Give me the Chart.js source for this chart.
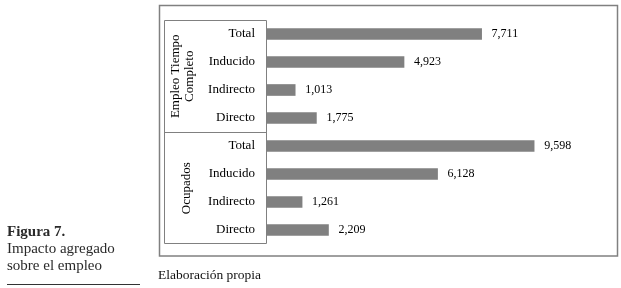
<!DOCTYPE html>
<html>
<head>
<meta charset="utf-8">
<script src="https://cdn.jsdelivr.net/npm/chart.js@4.4.1/dist/chart.umd.min.js"></script>
<style>
  html, body { margin: 0; padding: 0; background: #fff; }
  body { width: 621px; height: 288px; position: relative; overflow: hidden; font-family: "Liberation Serif", serif; }
  #wrap { position: absolute; left: 0; top: 0; width: 621px; height: 288px; }
  #caption { position: absolute; left: 7px; top: 223px; font-size: 15px; line-height: 17px; color: #2a2a2a; }
  #caption b { font-weight: bold; }
  #rule { position: absolute; left: 7px; top: 284px; width: 133px; height: 1px; background: #333; }
  #source { position: absolute; left: 158px; top: 267px; font-size: 13.5px; line-height: 16px; color: #111; }
</style>
</head>
<body>
<div id="wrap"><canvas id="myChart" width="621" height="288"></canvas></div>
<div id="caption"><b>Figura 7.</b><br>Impacto agregado<br>sobre el empleo</div>
<div id="rule"></div>
<div id="source">Elaboración propia</div>
<script>
var categories = ['Total', 'Inducido', 'Indirecto', 'Directo', 'Total', 'Inducido', 'Indirecto', 'Directo'];
var values = [7711, 4923, 1013, 1775, 9598, 6128, 1261, 2209];
var groups = [['Empleo Tiempo', 'Completo'], ['Ocupados']];
var groupSize = 4;

var GREY = '#808080';

var boxPlugin = {
  id: 'boxes',
  afterDraw: function(chart) {
    var ctx = chart.ctx;
    var area = chart.chartArea;
    var y = chart.scales.y;
    ctx.save();
    // outer frame
    ctx.strokeStyle = GREY;
    ctx.lineWidth = 1.5;
    ctx.strokeRect(159.5, 5.5, 458, 250.5);
    // category box
    ctx.lineWidth = 1;
    var left = 164.5, axisX = Math.round(area.left) - 0.5;
    var top = Math.round(area.top) + 0.5, bottom = Math.round(area.bottom) - 0.5;
    ctx.beginPath();
    ctx.moveTo(left, top); ctx.lineTo(axisX, top);
    ctx.moveTo(axisX, top); ctx.lineTo(axisX, bottom);
    ctx.moveTo(left, top); ctx.lineTo(left, bottom);
    ctx.moveTo(left, bottom); ctx.lineTo(axisX, bottom);
    var mid = Math.round((area.top + area.bottom) / 2) + 0.5;
    ctx.moveTo(left, mid); ctx.lineTo(axisX, mid);
    ctx.stroke();

    // group labels, rotated
    ctx.fillStyle = '#000';
    ctx.font = '13px "Liberation Serif"';
    ctx.textAlign = 'center';
    ctx.textBaseline = 'middle';
    for (var g = 0; g < groups.length; g++) {
      var gTop = g === 0 ? area.top : mid;
      var gBot = g === 0 ? mid : area.bottom;
      var cy = (gTop + gBot) / 2;
      var lines = groups[g];
      var cx0 = lines.length > 1 ? 176 : 187;
      for (var l = 0; l < lines.length; l++) {
        ctx.save();
        ctx.translate(cx0 + l * 14, cy);
        ctx.rotate(-Math.PI / 2);
        ctx.fillText(lines[l], 0, 0);
        ctx.restore();
      }
    }

    // value labels
    ctx.font = '12px "Liberation Serif"';
    ctx.textAlign = 'left';
    var meta = chart.getDatasetMeta(0);
    meta.data.forEach(function(bar, i) {
      ctx.fillText(values[i].toLocaleString('en-US'), bar.x + 10, bar.y);
    });
    ctx.restore();
  }
};

new Chart('myChart', {
  type: 'bar',
  data: {
    labels: categories,
    datasets: [{
      data: values,
      backgroundColor: GREY,
      borderWidth: 0,
      barThickness: 11
    }]
  },
  options: {
    indexAxis: 'y',
    responsive: false,
    animation: false,
    events: [],
    layout: { padding: { top: 20, bottom: 44, left: 0, right: 20 } },
    plugins: { legend: { display: false }, tooltip: { enabled: false } },
    scales: {
      x: { display: false, min: 0, max: 12000 },
      y: {
        grid: { display: false, drawTicks: false },
        border: { display: false },
        ticks: { color: '#000', font: { family: 'Liberation Serif', size: 13 }, padding: 12 },
        afterFit: function(scale) { scale.width = 267; }
      }
    }
  },
  plugins: [boxPlugin]
});
</script>
</body>
</html>
